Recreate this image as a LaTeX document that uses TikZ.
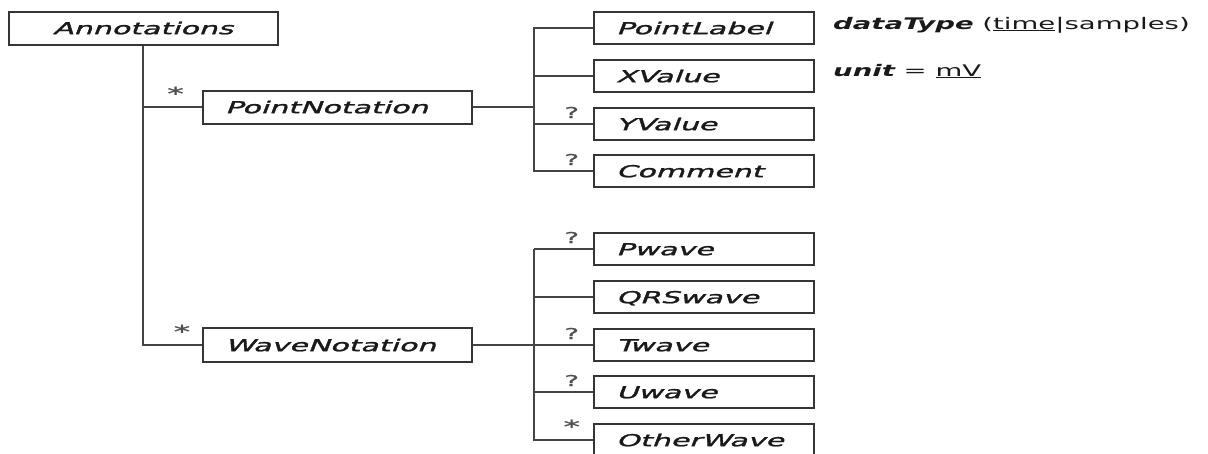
\documentclass[tikz,border=0pt]{standalone}
\usepackage{fontspec}
\setmainfont{DejaVu Sans}
% oblique face with a little extra weight for element names
\newfontface\elemface{DejaVu Sans}[FakeSlant=0.21, FakeBold=1.3]
\newfontface\multface{DejaVu Sans}[FakeBold=1.0]
\definecolor{linegray}{HTML}{444444}
\definecolor{boxgray}{HTML}{353535}
\definecolor{inkgray}{HTML}{1A1A1A}
\definecolor{multgray}{HTML}{505050}
\newcommand\wide[1]{\scalebox{1.82}[1]{#1}}
\newcommand\widetxt[1]{\scalebox{1.72}[1]{#1}}
\begin{document}
\begin{tikzpicture}[x=1pt,y=-1pt,
  elem/.style={draw=boxgray, line width=2pt, rectangle, text=inkgray,
    font=\elemface\fontsize{16.5}{18}\selectfont,
    text height=12.4pt, text depth=0pt, inner ysep=0pt, inner xsep=22pt,
    align=left},
  wideelem/.style={elem, text width=225pt, minimum height=33pt},
  leafelem/.style={elem, text width=176pt, minimum height=32pt},
  link/.style={draw=linegray, line width=2pt},
  mult/.style={text=multgray, font=\multface\fontsize{15}{16}\selectfont, inner sep=0pt},
  star/.style={mult, font=\multface\fontsize{18}{19}\selectfont},
  note/.style={text=inkgray, font=\fontsize{16}{18}\selectfont, inner sep=0pt, anchor=base west}]
\useasboundingbox (0,0) rectangle (1208,453);
\begin{scope}
\clip (0,0) rectangle (1208,453);

% root element
\node[wideelem, align=center] (ann) at (143,28) {\wide{Annotations}};

% first-level elements
\node[wideelem] (pn) at (337.5,107) {\wide{PointNotation}};
\node[wideelem, minimum height=34pt] (wn) at (337.5,345) {\wide{WaveNotation}};

% children of PointNotation
\node[leafelem] (pl) at (704,28) {\wide{PointLabel}};
\node[leafelem] (xv) at (704,76) {\wide{XValue}};
\node[leafelem] (yv) at (704,124) {\wide{YValue}};
\node[leafelem] (cm) at (704,171) {\wide{Comment}};

% children of WaveNotation
\node[leafelem] (pw) at (704,249) {\wide{Pwave}};
\node[leafelem] (qw) at (704,297) {\wide{QRSwave}};
\node[leafelem] (tw) at (704,345) {\wide{Twave}};
\node[leafelem] (uw) at (704,392) {\wide{Uwave}};
\node[leafelem] (ow) at (704,440) {\wide{OtherWave}};

% attribute notes
\node[note] (dt) at (833,29) {\widetxt{{\bfseries\itshape dataType} (\underline{time}|samples)}};
\node[note] (un) at (833,76) {\widetxt{{\bfseries\itshape unit} = \underline{mV}}};

% bus lines
\coordinate (pbus) at (534,0);
\coordinate (wbus) at (534,0);

% root connectors
\draw[link] (ann.south) |- (wn.west)
  node[star, pos=0.83, above=6pt] (m2) {\wide{*}};
\draw[link] (ann.south |- pn.west) -- (pn.west)
  node[star, pos=0.55, above=6pt] (m1) {\wide{*}};

% PointNotation group
\draw[link] (pn.east) -- (pbus |- pn.east);
\draw[link] (pl.west) -- (pbus |- pl.west) -- (pbus |- cm.west) -- (cm.west)
  node[mult, pos=0.64, above=5pt] (m4) {\wide{?}};
\draw[link] (pbus |- xv.west) -- (xv.west);
\draw[link] (pbus |- yv.west) -- (yv.west)
  node[mult, pos=0.64, above=5pt] (m3) {\wide{?}};

% WaveNotation group
\draw[link] (wn.east) -- (wbus |- wn.east);
\draw[link] (pw.west) -- (wbus |- pw.west)
  node[mult, pos=0.36, above=5pt] (m5) {\wide{?}};
\draw[link] (wbus |- pw.west) -- (wbus |- ow.west) -- (ow.west)
  node[star, pos=0.64, above=6pt] (m8) {\wide{*}};
\draw[link] (wbus |- qw.west) -- (qw.west);
\draw[link] (wbus |- tw.west) -- (tw.west)
  node[mult, pos=0.64, above=5pt] (m6) {\wide{?}};
\draw[link] (wbus |- uw.west) -- (uw.west)
  node[mult, pos=0.64, above=5pt] (m7) {\wide{?}};
\end{scope}
\end{tikzpicture}
\end{document}
